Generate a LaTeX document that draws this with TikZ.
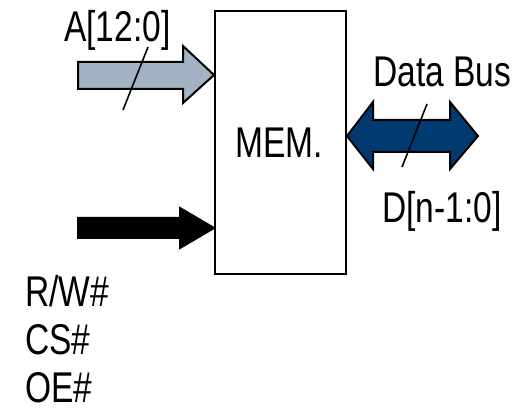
\documentclass[tikz,border=0pt]{standalone}
\usepackage{fontspec}
\newfontfamily\narrowsans[FakeStretch=0.78]{Liberation Sans}
\definecolor{addrfill}{HTML}{A3B3C3}
\definecolor{busfill}{HTML}{003A6E}
\begin{document}
\begin{tikzpicture}[x=1pt,y=-1pt,
  lbl/.style={anchor=base west,inner sep=0pt,font=\narrowsans\fontsize{43}{50}\selectfont},
  fatarrow/.style={draw=black,line width=2pt,line join=miter},
  slash/.style={line width=1.6pt}]
\useasboundingbox (0,0) rectangle (529,411);

% memory block
\node[draw,line width=2pt,minimum width=131pt,minimum height=263pt,inner sep=0pt]
  (mem) at (280.5,142.5) {};
\node[lbl] (memtxt) at (235,158) {MEM.};

% address bus: wide arrow into the block
\coordinate (atip) at (mem.west |- 0,75);
\draw[fatarrow,fill=addrfill]
  (78,62) -- (183,62) -- (183,46) -- (atip) -- (183,103) -- (183,89) -- (78,89) -- cycle;
\draw[slash] (148,47) -- (123,110);
\node[lbl] (alabel) at (64,42) {A[12:0]};

% control lines: solid black arrow
\coordinate (ctip) at (mem.west |- 0,228);
\draw[fatarrow,fill=black]
  (78,218) -- (180,218) -- (180,208) -- (ctip) -- (180,248) -- (180,238) -- (78,238) -- cycle;
\node[lbl] (rw) at (25,306) {R/W\#};
\node[lbl] (cs) at (25,354) {CS\#};
\node[lbl] (oe) at (25,402) {OE\#};

% data bus: two-headed arrow out of the block
\coordinate (dtip) at (mem.east |- 0,136);
\draw[fatarrow,fill=busfill]
  (dtip) -- (373,102) -- (373,120) -- (450,120) -- (450,102) -- (478,136)
  -- (450,169) -- (450,152) -- (373,152) -- (373,169) -- cycle;
\draw[slash] (427,104) -- (402,167);
\node[lbl] (dbus) at (373,87) {Data Bus};
\node[lbl] (dlabel) at (382,223) {D[n-1:0]};
\end{tikzpicture}
\end{document}
